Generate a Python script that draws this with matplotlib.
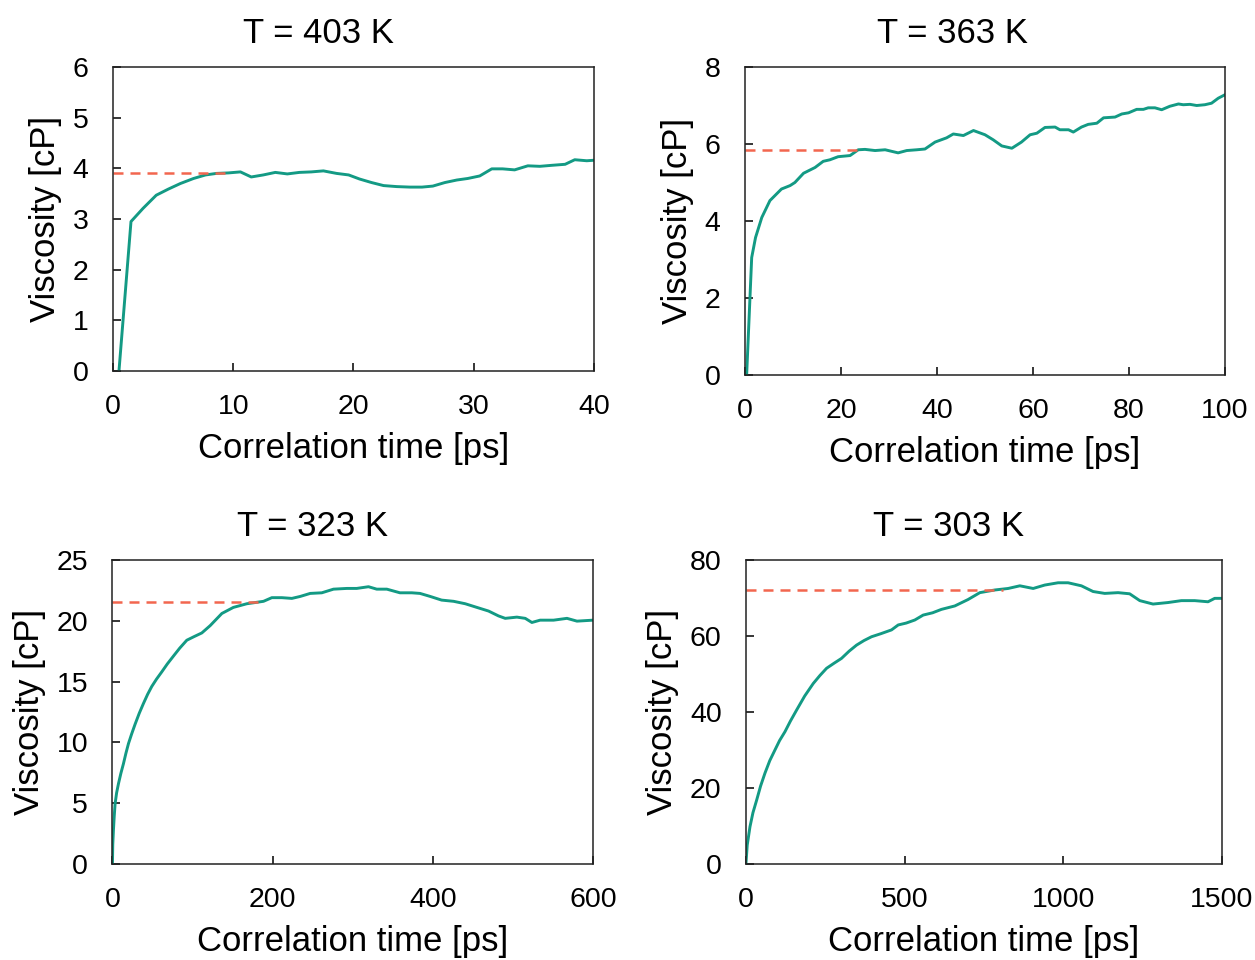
import matplotlib
matplotlib.use('Agg')
import matplotlib.pyplot as plt

plt.rcParams['font.family'] = ['Liberation Sans', 'DejaVu Sans']

# T = 403 K
t403 = [0.5, 1.5, 2.5, 3.6, 4.6, 5.6, 6.7, 7.7, 8.6, 9.6, 10.6, 11.5, 12.5, 13.5,
        14.5, 15.5, 16.5, 17.5, 18.6, 19.6, 20.5, 21.5, 22.5, 23.6, 24.7, 25.7,
        26.6, 27.6, 28.6, 29.5, 30.5, 31.5, 32.4, 33.4, 34.5, 35.5, 36.5, 37.6,
        38.4, 39.4, 40.0]
v403 = [0.0, 2.95, 3.21, 3.47, 3.59, 3.70, 3.80, 3.87, 3.90, 3.91, 3.93, 3.83,
        3.87, 3.92, 3.89, 3.92, 3.93, 3.95, 3.90, 3.87, 3.79, 3.72, 3.66, 3.64,
        3.63, 3.63, 3.65, 3.72, 3.77, 3.80, 3.85, 3.99, 3.99, 3.97, 4.05, 4.04,
        4.06, 4.08, 4.17, 4.15, 4.16]
avg403 = 3.91
cut403 = 9.6

# T = 363 K
t363 = [0.35, 1.4, 2.2, 3.5, 5.2, 7.6, 9.4, 10.4, 12.2, 14.6, 16.3, 17.7, 19.4,
        21.9, 23.6, 25.0, 27.1, 29.2, 31.9, 33.7, 35.8, 37.5, 39.6, 42.0, 43.4,
        45.5, 47.6, 50.0, 51.7, 53.5, 55.6, 57.6, 59.4, 60.8, 62.5, 64.6, 65.6,
        67.4, 68.4, 70.1, 71.5, 73.3, 74.7, 77.1, 78.5, 79.9, 81.6, 83.0, 84.0,
        85.4, 86.8, 88.5, 90.3, 91.3, 92.7, 94.1, 95.8, 97.2, 98.6, 100.0]
v363 = [0.0, 3.05, 3.57, 4.09, 4.53, 4.83, 4.92, 5.00, 5.24, 5.39, 5.55, 5.59,
        5.67, 5.70, 5.85, 5.86, 5.83, 5.85, 5.77, 5.83, 5.85, 5.87, 6.05, 6.16,
        6.26, 6.22, 6.35, 6.24, 6.11, 5.95, 5.89, 6.05, 6.24, 6.28, 6.43, 6.44,
        6.37, 6.37, 6.31, 6.44, 6.51, 6.54, 6.68, 6.70, 6.78, 6.81, 6.90, 6.90,
        6.94, 6.94, 6.89, 6.98, 7.04, 7.02, 7.03, 7.00, 7.02, 7.06, 7.19, 7.28]
avg363 = 5.85
cut363 = 24.7

# T = 323 K
t323 = [0, 0.4, 1.2, 2.2, 3.3, 5.2, 7.5, 10.5, 13.7, 16.8, 20, 24, 28.3, 33.5,
        38.7, 43.9, 49.1, 55, 61.6, 68.5, 76.2, 84, 92.8, 102, 111.6, 122, 136.6,
        151, 167.8, 188.6, 199, 211.5, 224, 234.4, 246.9, 261.4, 276, 292.7, 305,
        319.7, 330, 342.6, 359, 373.8, 384, 396.8, 411, 426, 440.5, 455, 469.6,
        482, 490.4, 505, 515.4, 523.7, 534, 550.8, 567.5, 580, 600]
v323 = [0.0, 1.6, 2.75, 3.9, 4.95, 5.85, 6.6, 7.45, 8.24, 9.1, 9.9, 10.7, 11.5,
        12.4, 13.2, 13.95, 14.6, 15.2, 15.8, 16.45, 17.1, 17.75, 18.4, 18.7,
        19.0, 19.6, 20.6, 21.1, 21.4, 21.6, 21.9, 21.9, 21.84, 22.0, 22.25, 22.3,
        22.6, 22.66, 22.66, 22.8, 22.6, 22.6, 22.3, 22.3, 22.25, 22.0, 21.7,
        21.6, 21.4, 21.1, 20.8, 20.4, 20.2, 20.3, 20.2, 19.86, 20.05, 20.05,
        20.2, 19.97, 20.05]
avg323 = 21.57
cut323 = 188.6

# T = 303 K
t303 = [0, 4, 12.6, 22, 33.6, 46, 59.8, 75, 91.3, 106, 122.8, 140, 159.5, 185,
        212, 233, 254, 277, 301, 325, 348.5, 372, 395.7, 425, 458.7, 479.7, 505,
        532, 558.4, 588, 616, 658, 700, 736.9, 784, 826, 863, 905, 941.5, 983.5,
        1015, 1057, 1093.7, 1130.5, 1172.5, 1209, 1241, 1282.7, 1330, 1372, 1414,
        1456, 1477, 1500]
v303 = [0.2, 5.0, 9.8, 13.5, 16.8, 20.5, 23.9, 27.2, 30.0, 32.5, 34.8, 37.6,
        40.5, 44.2, 47.5, 49.6, 51.5, 52.8, 54.1, 56.0, 57.6, 58.8, 59.8, 60.6,
        61.6, 62.9, 63.4, 64.2, 65.5, 66.1, 67.0, 67.9, 69.6, 71.4, 72.1, 72.5,
        73.2, 72.5, 73.4, 74.0, 74.0, 73.2, 71.7, 71.2, 71.4, 71.1, 69.3, 68.4,
        68.8, 69.3, 69.3, 69.0, 69.9, 69.9]
avg303 = 72.1
cut303 = 810

titles = ['T = 403 K', 'T = 363 K', 'T = 323 K', 'T = 303 K']
xlims = [40, 100, 600, 1500]
ylims = [6, 8, 25, 80]
xticks = [[0, 10, 20, 30, 40], [0, 20, 40, 60, 80, 100], [0, 200, 400, 600],
          [0, 500, 1000, 1500]]
yticks = [[0, 1, 2, 3, 4, 5, 6], [0, 2, 4, 6, 8], [0, 5, 10, 15, 20, 25],
          [0, 20, 40, 60, 80]]

series = [(t403, v403, avg403, cut403), (t363, v363, avg363, cut363),
          (t323, v323, avg323, cut323), (t303, v303, avg303, cut303)]

# axes rectangles in figure fractions
rects = [[0.0900, 0.6135, 0.3833, 0.3167],
         [0.5936, 0.6094, 0.3825, 0.3208],
         [0.0896, 0.1000, 0.3829, 0.3167],
         [0.5944, 0.1000, 0.3793, 0.3167]]
title_x = [0.427, 0.433, 0.417, 0.425]

TEAL = '#139a84'
RED = '#f2664f'

fig = plt.figure(figsize=(12.55, 9.6), dpi=100)

for i in range(4):
    ax = fig.add_axes(rects[i])
    t, v, avg, cut = series[i]
    ax.plot(t, v, color=TEAL, lw=2.1)
    ax.plot([0, cut], [avg, avg], color=RED, lw=1.8, ls=(0, (4, 2.8)))

    ax.set_xlim(0, xlims[i])
    ax.set_ylim(0, ylims[i])
    ax.set_xticks(xticks[i])
    ax.set_yticks(yticks[i])
    ax.tick_params(direction='in', length=6, width=1.1, labelsize=20.5,
                   top=False, right=False)
    ax.tick_params(axis='x', pad=16.5)
    ax.tick_params(axis='y', pad=17.5)
    for s in ax.spines.values():
        s.set_linewidth(1.1)
        s.set_color('#222222')

    ax.set_xlabel('Correlation time [ps]', fontsize=25, labelpad=8.5)
    ax.set_ylabel('Viscosity [cP]', fontsize=25, labelpad=7.5)
    ax.set_title(titles[i], fontsize=25, x=title_x[i], pad=17)

plt.savefig('out.png', dpi=100)
